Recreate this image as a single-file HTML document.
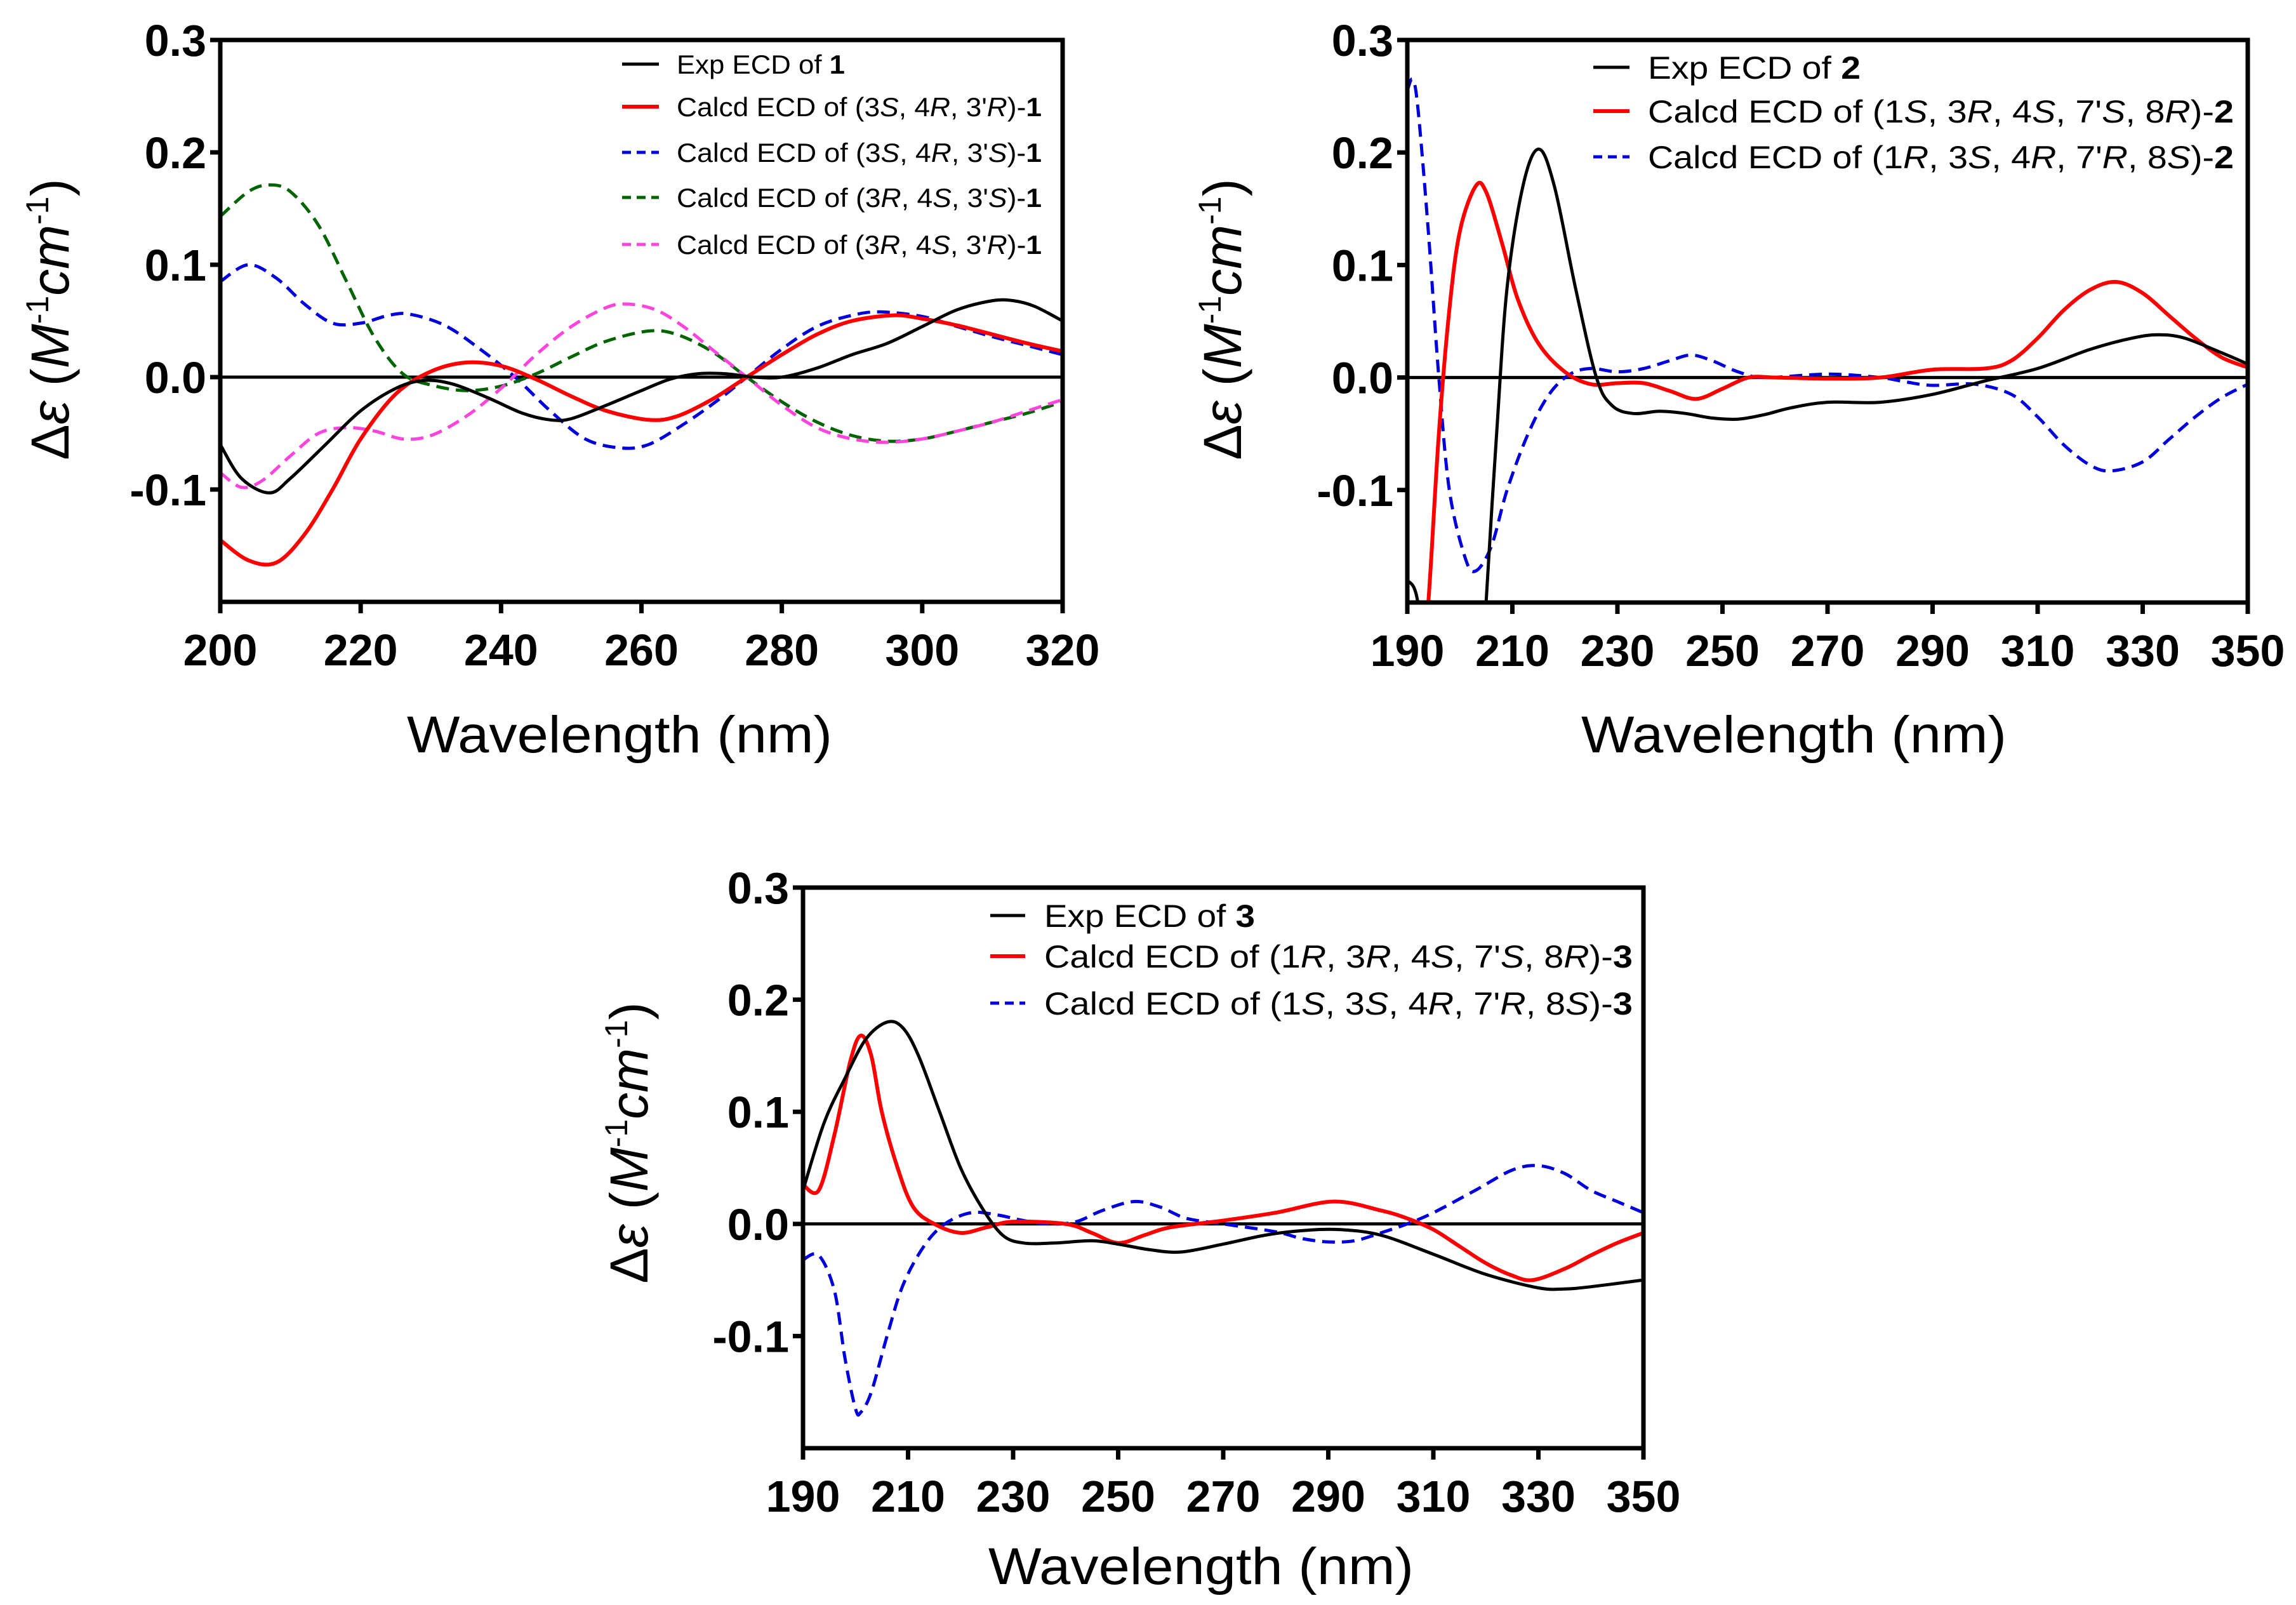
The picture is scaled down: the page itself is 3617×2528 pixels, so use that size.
<!DOCTYPE html>
<html><head><meta charset="utf-8"><style>
html,body{margin:0;padding:0;background:#fff;}
svg{display:block;font-family:"Liberation Sans",Arial,sans-serif;}
</style></head><body>
<svg id="fig" width="3617" height="2528" viewBox="0 0 3617 2528" xmlns="http://www.w3.org/2000/svg"></svg>
<script>
// ---------- Chart 1 data ----------
const c1_exp_x=[200,203,207,210,215,220,225,229,233,238,243,247,250,255,260,264,268,272,276,280,285,290,295,300,305,310,313,316,320];
const c1_exp_y=[-0.06,-0.09,-0.103,-0.09,-0.06,-0.03,-0.01,-0.003,-0.006,-0.018,-0.032,-0.038,-0.037,-0.025,-0.012,-0.002,0.003,0.003,0.0,0.0,0.008,0.02,0.03,0.045,0.06,0.068,0.068,0.063,0.05];
const c1_red_x=[200,204,208,212,216,220,225,230,235,240,245,250,255,261,265,270,275,280,285,290,296,300,305,310,315,320];
const c1_red_y=[-0.145,-0.163,-0.165,-0.14,-0.1,-0.055,-0.015,0.005,0.013,0.01,-0.002,-0.017,-0.03,-0.038,-0.035,-0.02,0.0,0.02,0.038,0.05,0.055,0.052,0.046,0.038,0.03,0.023];
const c1_blue_x=[200,204,208,212,216,220,224,227,232,237,242,247,252,257,261,266,271,275,280,285,290,294,300,305,310,315,320];
const c1_blue_y=[0.085,0.1,0.088,0.065,0.048,0.048,0.055,0.056,0.046,0.025,0.0,-0.03,-0.055,-0.063,-0.06,-0.042,-0.02,0.0,0.025,0.045,0.055,0.058,0.054,0.045,0.036,0.028,0.02];
const c1_green_x=[200,204,207,210,214,218,222,226,230,235,240,245,250,255,261,265,270,275,280,285,290,295,300,305,310,315,320];
const c1_green_y=[0.143,0.165,0.171,0.165,0.135,0.085,0.035,0.003,-0.007,-0.012,-0.008,0.003,0.018,0.032,0.041,0.038,0.023,0.0,-0.022,-0.04,-0.052,-0.057,-0.055,-0.048,-0.04,-0.032,-0.022];
const c1_pink_x=[200,203,206,210,214,218,222,226,230,235,240,245,250,255,258,262,266,270,275,280,285,290,295,300,305,310,315,320];
const c1_pink_y=[-0.085,-0.098,-0.092,-0.07,-0.05,-0.045,-0.048,-0.055,-0.052,-0.035,-0.01,0.02,0.045,0.062,0.065,0.06,0.045,0.025,0.0,-0.025,-0.045,-0.055,-0.058,-0.055,-0.048,-0.04,-0.03,-0.02];
const c1_xticks=[200,220,240,260,280,300,320];
// ---------- Chart 2 data ----------
const c2_exp_x=[190,192,194,204,205,207,209,212,215,218,222,226,229,233,238,243,248,253,258,263,270,280,290,300,310,320,328,333,338,345,350];
const c2_exp_y=[-0.18,-0.2,-0.3,-0.3,-0.2,-0.05,0.08,0.17,0.203,0.17,0.08,0.0,-0.025,-0.032,-0.03,-0.032,-0.036,-0.037,-0.033,-0.027,-0.022,-0.022,-0.015,-0.003,0.008,0.025,0.035,0.038,0.035,0.022,0.012];
const c2_red_x=[192,194,196,198,200,203,205,208,211,215,220,225,230,235,240,245,250,255,260,270,280,290,300,305,310,315,320,325,330,335,340,345,350];
const c2_red_y=[-0.3,-0.2,-0.05,0.06,0.13,0.17,0.165,0.12,0.07,0.03,0.005,-0.006,-0.005,-0.005,-0.012,-0.019,-0.01,0.0,0.0,-0.001,0.0,0.007,0.008,0.015,0.035,0.06,0.078,0.085,0.075,0.055,0.035,0.018,0.009];
const c2_blue_x=[190,191,192,194,196,198,201,203,206,209,213,217,221,225,230,235,240,244,248,253,258,270,280,285,290,298,305,310,315,320,324,330,335,340,345,350];
const c2_blue_y=[0.255,0.265,0.24,0.13,0.0,-0.1,-0.16,-0.172,-0.15,-0.1,-0.05,-0.015,0.003,0.008,0.005,0.008,0.015,0.02,0.015,0.005,0.0,0.003,0.0,-0.004,-0.007,-0.006,-0.015,-0.035,-0.06,-0.078,-0.083,-0.075,-0.055,-0.035,-0.018,-0.006];
const c2_xticks=[190,210,230,250,270,290,310,330,350];
// ---------- Chart 3 data ----------
const c3_exp_x=[190,194,198,202,206,209,212,216,220,224,228,232,238,245,250,256,262,270,278,285,292,300,310,320,330,335,340,350];
const c3_exp_y=[0.03,0.09,0.13,0.165,0.18,0.175,0.15,0.1,0.05,0.015,-0.01,-0.017,-0.017,-0.015,-0.018,-0.023,-0.025,-0.018,-0.01,-0.006,-0.005,-0.01,-0.027,-0.045,-0.057,-0.058,-0.056,-0.05];
const c3_red_x=[190,193,196,199,201,203,205,208,211,215,220,225,230,240,245,250,255,260,270,280,291,300,305,310,315,320,325,329,335,340,345,350];
const c3_red_y=[0.035,0.03,0.08,0.145,0.168,0.15,0.1,0.05,0.015,0.0,-0.008,-0.003,0.002,0.0,-0.008,-0.017,-0.01,-0.003,0.003,0.01,0.02,0.012,0.005,-0.005,-0.02,-0.035,-0.046,-0.05,-0.04,-0.028,-0.017,-0.008];
const c3_blue_x=[190,193,196,198,200,201,203,206,209,213,217,222,227,232,237,242,247,253,258,263,270,280,285,290,295,300,305,310,318,325,330,335,340,345,350];
const c3_blue_y=[-0.032,-0.028,-0.06,-0.12,-0.165,-0.168,-0.15,-0.1,-0.055,-0.02,0.0,0.01,0.008,0.003,0.0,0.002,0.012,0.02,0.015,0.005,0.0,-0.007,-0.013,-0.016,-0.015,-0.008,0.0,0.01,0.03,0.048,0.052,0.045,0.03,0.02,0.01];
const c3_xticks=[190,210,230,250,270,290,310,330,350];
const yticks=[0.3,0.2,0.1,0.0,-0.1];
const yLabels=["0.3","0.2","0.1","0.0","-0.1"];

const NS="http://www.w3.org/2000/svg";
const svg=document.getElementById('fig');
function mk(tag,attrs,parent){const e=document.createElementNS(NS,tag);for(const k in attrs)e.setAttribute(k,attrs[k]);(parent||svg).appendChild(e);return e;}
function smooth(pts){let d="M"+pts[0][0].toFixed(1)+","+pts[0][1].toFixed(1);
 for(let i=0;i<pts.length-1;i++){const p0=pts[Math.max(0,i-1)],p1=pts[i],p2=pts[i+1],p3=pts[Math.min(pts.length-1,i+2)];
  const c1x=p1[0]+(p2[0]-p0[0])/6,c1y=p1[1]+(p2[1]-p0[1])/6,c2x=p2[0]-(p3[0]-p1[0])/6,c2y=p2[1]-(p3[1]-p1[1])/6;
  d+=" C"+c1x.toFixed(1)+","+c1y.toFixed(1)+" "+c2x.toFixed(1)+","+c2y.toFixed(1)+" "+p2[0].toFixed(1)+","+p2[1].toFixed(1);}
 return d;}

function chart(id,L,R,T,B,x0,x1,xticks,series,legend,yTitle,xTitle,tickSize){
 const g=mk('g',{});
 
 
 const xs=v=>L+(v-x0)/(x1-x0)*(R-L);
 const ys=v=>T+(0.3-v)/0.5*(B-T);
 const cp=mk('clipPath',{id:id+'-clip'},g);mk('rect',{x:L,y:T,width:R-L,height:B-T},cp);
 const z=mk('line',{x1:L,x2:R,y1:ys(0),y2:ys(0),stroke:'#000','stroke-width':5},g);
 
 
 const sg=mk('g',{'clip-path':'url(#'+id+'-clip)'},g);
 series.forEach(s=>{const pts=s.x.map((v,i)=>[xs(v),ys(s.y[i])]);
  const p=mk('path',{d:smooth(pts),fill:'none',stroke:s.c,'stroke-width':s.w,'stroke-dasharray':s.dash||'none','stroke-linejoin':'round'},sg);
  
  });
 const fr=mk('rect',{x:L,y:T,width:R-L,height:B-T,fill:'none',stroke:'#000','stroke-width':7},g);
 
 
 yticks.forEach((v,i)=>{mk('line',{x1:L-16,x2:L,y1:ys(v),y2:ys(v),stroke:'#000','stroke-width':7},g);
  const t=mk('text',{x:L-22,y:ys(v)+25,'text-anchor':'end','font-size':tickSize,'font-weight':'bold'},g);t.textContent=yLabels[i];
  
  });
 xticks.forEach(v=>{mk('line',{x1:xs(v),x2:xs(v),y1:B,y2:B+18,stroke:'#000','stroke-width':7},g);
  const t=mk('text',{x:xs(v),y:B+100,'text-anchor':'middle','font-size':tickSize,'font-weight':'bold'},g);t.textContent=v;
  
  });
 const xt=mk('text',{x:xTitle[0],y:xTitle[1],'text-anchor':'middle','font-size':82,textLength:670,lengthAdjust:'spacingAndGlyphs'},g);
 xt.textContent='Wavelength (nm)';
 
 
 const yt=mk('text',{x:0,y:0,'text-anchor':'middle','font-size':84,transform:'translate('+yTitle[0]+','+yTitle[1]+') rotate(-90)'},g);
 yt.innerHTML='Δ<tspan font-style="italic">ε</tspan> (<tspan font-style="italic">M</tspan><tspan font-size="50" dy="-32">-1</tspan><tspan font-style="italic" dy="32">cm</tspan><tspan font-size="50" dy="-32">-1</tspan><tspan dy="32">)</tspan>';
 
 
 legend.rows.forEach((r,i)=>{const y=legend.ys[i];
  const le=mk('g',{},g);
  
  
  mk('line',{x1:legend.lx0,x2:legend.lx1,y1:y,y2:y,stroke:r.c,'stroke-width':r.w,'stroke-dasharray':r.dash||'none'},le);
  const t=mk('text',{x:legend.tx,y:y+legend.fs*0.36,'font-size':legend.fs,textLength:r.len,lengthAdjust:'spacingAndGlyphs'},le);
  t.innerHTML=r.html;});
}
const it=s=>s.replace(/(\d'?)([RS])/g,'$1<tspan font-style="italic">$2</tspan>');
const dash='20 11';
chart('chart-compound-1',347,1674,63,948,200,320,c1_xticks,[
 {name:'calcd-3S4R3S-1',x:c1_blue_x,y:c1_blue_y,c:'#0000dd',w:5,dash:dash},
 {name:'calcd-3R4S3S-1',x:c1_green_x,y:c1_green_y,c:'#006400',w:5,dash:dash},
 {name:'calcd-3R4S3R-1',x:c1_pink_x,y:c1_pink_y,c:'#ff44dd',w:5,dash:dash},
 {name:'calcd-3S4R3R-1',x:c1_red_x,y:c1_red_y,c:'#ff0000',w:6},
 {name:'exp-ecd-1',x:c1_exp_x,y:c1_exp_y,c:'#000',w:5}],
 {lx0:980,lx1:1038,tx:1066,fs:42,ys:[101,168,240,311,385],rows:[
  {c:'#000',w:5,html:'Exp ECD of <tspan font-weight="bold">1</tspan>',len:265},
  {c:'#ff0000',w:6,html:'Calcd ECD of ('+it("3S, 4R, 3'R")+')-<tspan font-weight="bold">1</tspan>',len:575},
  {c:'#0000dd',w:5,dash:'14 9',html:'Calcd ECD of ('+it("3S, 4R, 3'S")+')-<tspan font-weight="bold">1</tspan>',len:575},
  {c:'#006400',w:5,dash:'14 9',html:'Calcd ECD of ('+it("3R, 4S, 3'S")+')-<tspan font-weight="bold">1</tspan>',len:575},
  {c:'#ff44dd',w:5,dash:'14 9',html:'Calcd ECD of ('+it("3R, 4S, 3'R")+')-<tspan font-weight="bold">1</tspan>',len:575}]},
 [108,503],[976,1185],70);
chart('chart-compound-2',2217,3541,63,949,190,350,c2_xticks,[
 {name:'calcd-1R3S4R7R8S-2',x:c2_blue_x,y:c2_blue_y,c:'#0000dd',w:5,dash:dash},
 {name:'calcd-1S3R4S7S8R-2',x:c2_red_x,y:c2_red_y,c:'#ff0000',w:6},
 {name:'exp-ecd-2',x:c2_exp_x,y:c2_exp_y,c:'#000',w:5}],
 {lx0:2510,lx1:2567,tx:2596,fs:50,ys:[106,175,247],rows:[
  {c:'#000',w:5,html:'Exp ECD of <tspan font-weight="bold">2</tspan>',len:335},
  {c:'#ff0000',w:6,html:'Calcd ECD of ('+it("1S, 3R, 4S, 7'S, 8R")+')-<tspan font-weight="bold">2</tspan>',len:923},
  {c:'#0000dd',w:5,dash:'14 9',html:'Calcd ECD of ('+it("1R, 3S, 4R, 7'R, 8S")+')-<tspan font-weight="bold">2</tspan>',len:923}]},
 [1955,503],[2826,1185],70);
chart('chart-compound-3',1265,2589,1398,2281,190,350,c3_xticks,[
 {name:'calcd-1S3S4R7R8S-3',x:c3_blue_x,y:c3_blue_y,c:'#0000dd',w:5,dash:dash},
 {name:'calcd-1R3R4S7S8R-3',x:c3_red_x,y:c3_red_y,c:'#ff0000',w:6},
 {name:'exp-ecd-3',x:c3_exp_x,y:c3_exp_y,c:'#000',w:5}],
 {lx0:1560,lx1:1615,tx:1645,fs:50,ys:[1442,1506,1580],rows:[
  {c:'#000',w:5,html:'Exp ECD of <tspan font-weight="bold">3</tspan>',len:332},
  {c:'#ff0000',w:6,html:'Calcd ECD of ('+it("1R, 3R, 4S, 7'S, 8R")+')-<tspan font-weight="bold">3</tspan>',len:927},
  {c:'#0000dd',w:5,dash:'14 9',html:'Calcd ECD of ('+it("1S, 3S, 4R, 7'R, 8S")+')-<tspan font-weight="bold">3</tspan>',len:927}]},
 [1020,1800],[1892,2495],70);
</script>
</body></html>
